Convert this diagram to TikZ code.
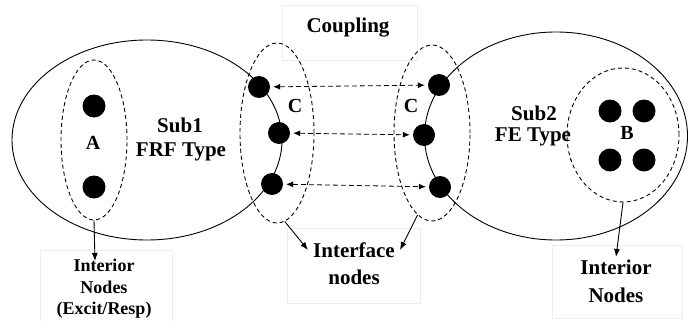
\documentclass[tikz,border=0pt]{standalone}
\usepackage{fontspec}
\setmainfont{Liberation Serif}
\usetikzlibrary{arrows.meta,shapes.geometric}
\begin{document}
\begin{tikzpicture}[x=1pt,y=-1pt,
  lbl/.style={font=\fontsize{21}{24}\selectfont\bfseries, inner sep=0},
  dot/.style={circle, fill=black, minimum size=23pt, inner sep=0},
  region/.style={draw, ellipse, inner sep=0, line width=0.9pt},
  group/.style={draw, ellipse, inner sep=0, line width=0.9pt, dash pattern=on 4pt off 3pt},
  tagbox/.style={draw=black!7, line width=0.6pt},
  link/.style={line width=0.8pt, dash pattern=on 5pt off 3pt,
    {Latex[length=7pt,width=6pt]}-{Latex[length=7pt,width=6pt]}, shorten <=3pt, shorten >=3pt},
  pointer/.style={line width=0.9pt, -{Latex[length=8pt,width=6pt]}}]

% page frame
\useasboundingbox (0,0) rectangle (688,321);

% faint label frames
\draw[tagbox] (282,5) rectangle (417,60);
\draw[tagbox] (287,228) rectangle (420,303);
\draw[tagbox] (40,250) rectangle (172,321);
\draw[tagbox] (552,245) rectangle (682,318);

% substructures
\node[region, minimum width=270pt, minimum height=200pt] (sub1) at (147,140) {};
\node[region, minimum width=263pt, minimum height=208pt] (sub2) at (556,136) {};

% node groups
\node[group, minimum width=66pt, minimum height=160pt] (aset) at (94,140) {};
\node[group, minimum width=74pt, minimum height=180pt] (lc) at (277,133) {};
\node[group, minimum width=76pt, minimum height=176pt] (rc) at (432,133) {};
\node[group, minimum width=112pt, minimum height=134pt] (bset) at (623,135) {};

% interior nodes of Sub1
\node[dot] (a1) at (94,106) {};
\node[dot] (a2) at (94,187) {};
\node[lbl, font=\fontsize{20}{24}\selectfont\bfseries] (alab) at (93,143) {A};

% interior nodes of Sub2
\node[dot] (b1) at (610,111) {};
\node[dot] (b2) at (644,111) {};
\node[dot] (b3) at (610,160) {};
\node[dot] (b4) at (644,160) {};
\node[lbl, font=\fontsize{20}{24}\selectfont\bfseries] (blab) at (627,133) {B};

% interface nodes
\node[dot, minimum size=22pt] (l1) at (259,87) {};
\node[dot, minimum size=22pt] (l2) at (279,133) {};
\node[dot, minimum size=22pt] (l3) at (272,184) {};
\node[dot, minimum size=22pt] (r1) at (439,85) {};
\node[dot, minimum size=22pt] (r2) at (424,135) {};
\node[dot, minimum size=22pt] (r3) at (440,187) {};
\node[lbl, font=\fontsize{20}{24}\selectfont\bfseries] (lclab) at (295,106) {C};
\node[lbl, font=\fontsize{20}{24}\selectfont\bfseries] (rclab) at (411,106) {C};

% coupling links
\draw[link] (l1) -- (r1);
\draw[link] (l2) -- (r2);
\draw[link] (l3) -- (r3);

% titles
\node[lbl] (s1a) at (180,125) {Sub1};
\node[lbl] (s1b) at (181,152) {FRF Type};
\node[lbl] (s2a) at (534,113) {Sub2};
\node[lbl] (s2b) at (533,137) {FE Type};
\node[lbl] (coup) at (348,28) {Coupling};

% interface label
\node[lbl, inner xsep=5pt] (ifw) at (354,250) {Interface};
\node[lbl] (ifn) at (354,277) {nodes};
\draw[pointer] (lc.-85) -- (ifw.west);
\draw[pointer] (rc.-100) -- (ifw.east);

% interior labels
\node[font=\fontsize{18}{21.5}\selectfont\bfseries, align=center, inner sep=0] (intl) at (104,289)
  {Interior\\Nodes\\(Excit/Resp)};
\coordinate (aend) at (95,261);
\draw[pointer] (aset.south) -- (aend);

\node[font=\fontsize{21}{28}\selectfont\bfseries, align=center, inner sep=0] (intr) at (616,281)
  {Interior\\Nodes};
\coordinate (bend) at (616,257);
\draw[pointer] (bset.south) -- (bend);
\end{tikzpicture}
\end{document}
